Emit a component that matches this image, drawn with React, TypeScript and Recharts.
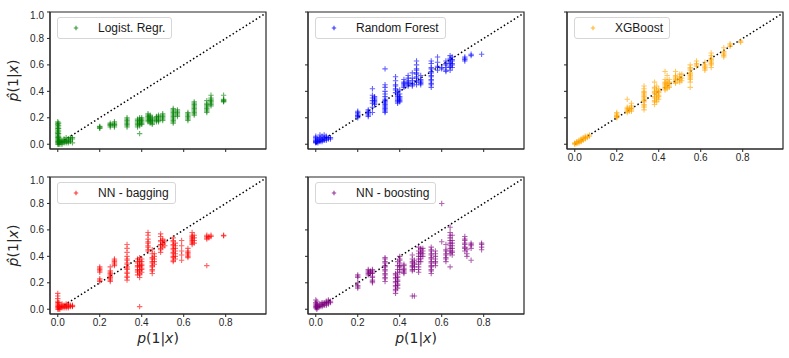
import React from 'react'
import { ReferenceArea, ReferenceLine, Scatter, ScatterChart, XAxis, YAxis } from 'recharts'

type Cluster = [number, number[]]

const X_TICKS = [0, 0.2, 0.4, 0.6, 0.8]
const Y_TICKS = [0, 0.2, 0.4, 0.6, 0.8, 1.0]
const X_DOMAIN: [number, number] = [-0.037, 0.992]
const Y_DOMAIN: [number, number] = [-0.036, 1.0]

// each entry: true p(1|x), then the estimates seen at that x
const LR_POINTS: Cluster[] = [
  [0.0, [0.0, 0.01, 0.02, 0.03, 0.04, 0.05, 0.06, 0.07, 0.08, 0.09, 0.1, 0.11, 0.12, 0.13, 0.14, 0.15, 0.16, 0.17]],
  [0.004, [0.0, 0.01, 0.02, 0.03, 0.04, 0.05, 0.06, 0.08, 0.1, 0.12, 0.14, 0.16]],
  [0.01, [0.0, 0.01, 0.02, 0.03]],
  [0.02, [0.0, 0.01, 0.02, 0.03]],
  [0.03, [0.01, 0.02, 0.03, 0.04]],
  [0.04, [0.01, 0.02, 0.03, 0.05]],
  [0.05, [0.01, 0.02, 0.03, 0.04]],
  [0.06, [0.02, 0.03, 0.04, 0.05]],
  [0.07, [0.01, 0.04, 0.05]],
  [0.2, [0.12, 0.125, 0.13, 0.135]],
  [0.25, [0.13, 0.14, 0.145, 0.15, 0.16]],
  [0.27, [0.13, 0.14, 0.145, 0.15, 0.16, 0.17]],
  [0.33, [0.13, 0.14, 0.15, 0.16, 0.17, 0.18, 0.19, 0.2]],
  [0.38, [0.13, 0.14, 0.15, 0.16, 0.17, 0.18, 0.19]],
  [0.39, [0.08, 0.14, 0.15, 0.16, 0.17, 0.18, 0.19, 0.2]],
  [0.4, [0.15, 0.16, 0.17, 0.18, 0.19, 0.2]],
  [0.43, [0.17, 0.18, 0.19, 0.2, 0.21, 0.22, 0.23]],
  [0.44, [0.16, 0.17, 0.18, 0.19, 0.2, 0.21, 0.22]],
  [0.45, [0.15, 0.16, 0.17, 0.18, 0.19, 0.2]],
  [0.47, [0.17, 0.18, 0.19, 0.2, 0.21]],
  [0.48, [0.17, 0.18, 0.19, 0.2, 0.21, 0.22]],
  [0.5, [0.18, 0.19, 0.2, 0.21, 0.22, 0.23]],
  [0.55, [0.16, 0.17, 0.18, 0.19, 0.2, 0.21, 0.22, 0.23, 0.24, 0.25, 0.26, 0.27]],
  [0.57, [0.21, 0.22, 0.23, 0.24, 0.25, 0.26]],
  [0.62, [0.18, 0.19, 0.2, 0.21, 0.22, 0.23, 0.24]],
  [0.65, [0.22, 0.23, 0.24, 0.25, 0.26, 0.27, 0.28, 0.29, 0.3, 0.31, 0.32]],
  [0.71, [0.24, 0.25, 0.26, 0.27, 0.28, 0.29, 0.3, 0.31, 0.33]],
  [0.73, [0.29, 0.3, 0.31, 0.32, 0.33, 0.34, 0.35, 0.37]],
  [0.79, [0.32, 0.325, 0.33, 0.335, 0.34, 0.37]],
]

const RF_POINTS: Cluster[] = [
  [0.0, [0.01, 0.015, 0.02, 0.025, 0.03, 0.04, 0.05, 0.06]],
  [0.01, [0.01, 0.02, 0.03, 0.04]],
  [0.02, [0.02, 0.03, 0.04, 0.05, 0.07]],
  [0.03, [0.02, 0.03, 0.04, 0.06]],
  [0.04, [0.03, 0.04, 0.05, 0.07]],
  [0.05, [0.03, 0.04, 0.05, 0.06]],
  [0.06, [0.04, 0.05]],
  [0.07, [0.04, 0.05]],
  [0.2, [0.2, 0.21, 0.215, 0.22, 0.23, 0.24, 0.25]],
  [0.25, [0.21, 0.22, 0.23, 0.24, 0.25, 0.26]],
  [0.27, [0.24, 0.28, 0.31, 0.33, 0.35, 0.37, 0.42]],
  [0.28, [0.3, 0.31, 0.32, 0.33, 0.34, 0.35, 0.36]],
  [0.33, [0.24, 0.25, 0.26, 0.27, 0.28, 0.29, 0.3, 0.31, 0.32, 0.33, 0.34, 0.36, 0.38, 0.4, 0.43, 0.45, 0.57]],
  [0.38, [0.39, 0.41, 0.42, 0.44, 0.45, 0.48, 0.51]],
  [0.39, [0.31, 0.32, 0.33, 0.34, 0.35, 0.36, 0.37, 0.38, 0.4]],
  [0.4, [0.32, 0.33, 0.34, 0.35, 0.36, 0.38, 0.41]],
  [0.42, [0.43, 0.44, 0.45, 0.46, 0.47, 0.49]],
  [0.44, [0.44, 0.45, 0.46, 0.47, 0.48, 0.5, 0.52]],
  [0.46, [0.44, 0.45, 0.46, 0.48, 0.5, 0.54]],
  [0.48, [0.45, 0.47, 0.48, 0.5, 0.51, 0.53, 0.54, 0.56, 0.57, 0.6, 0.63]],
  [0.5, [0.45, 0.46, 0.47, 0.48, 0.49, 0.52]],
  [0.55, [0.43, 0.45, 0.46, 0.48, 0.49, 0.51, 0.52, 0.54, 0.55, 0.57, 0.58, 0.61, 0.63]],
  [0.58, [0.56, 0.58, 0.59, 0.62, 0.66]],
  [0.6, [0.57, 0.58]],
  [0.62, [0.55, 0.56, 0.58, 0.6, 0.61, 0.63]],
  [0.64, [0.56, 0.58, 0.59, 0.61, 0.62, 0.64, 0.65, 0.67]],
  [0.65, [0.58, 0.6, 0.61, 0.63, 0.64, 0.66]],
  [0.71, [0.63, 0.64, 0.65, 0.66]],
  [0.74, [0.67, 0.68]],
  [0.79, [0.68]],
]

const XGB_POINTS: Cluster[] = [
  [0.0, [0.0, 0.005, 0.01]],
  [0.01, [0.005, 0.01, 0.015, 0.02]],
  [0.02, [0.01, 0.02, 0.03]],
  [0.03, [0.02, 0.025, 0.03, 0.04]],
  [0.04, [0.03, 0.04, 0.05]],
  [0.05, [0.04, 0.045, 0.05, 0.06]],
  [0.06, [0.05, 0.06]],
  [0.07, [0.06, 0.07]],
  [0.2, [0.2, 0.205, 0.21, 0.215, 0.22, 0.23, 0.24]],
  [0.25, [0.24, 0.25, 0.26, 0.27, 0.28, 0.34]],
  [0.26, [0.25, 0.26, 0.27]],
  [0.27, [0.25, 0.26, 0.27, 0.28, 0.29, 0.31]],
  [0.33, [0.26, 0.28, 0.29, 0.3, 0.32, 0.33, 0.34, 0.35, 0.36, 0.37, 0.38, 0.39, 0.4, 0.42, 0.44]],
  [0.38, [0.3, 0.32, 0.33, 0.35, 0.36, 0.38, 0.39, 0.4, 0.42, 0.43, 0.47]],
  [0.39, [0.32, 0.34, 0.35, 0.37, 0.38, 0.4, 0.41, 0.44]],
  [0.4, [0.34, 0.36, 0.37, 0.39, 0.4, 0.42]],
  [0.43, [0.41, 0.42, 0.43, 0.44, 0.45, 0.46, 0.47, 0.49, 0.55]],
  [0.44, [0.42, 0.43, 0.45, 0.46, 0.48, 0.52]],
  [0.45, [0.43, 0.44, 0.46, 0.47, 0.49]],
  [0.48, [0.46, 0.47, 0.48, 0.49, 0.5, 0.51, 0.52, 0.55]],
  [0.5, [0.47, 0.48, 0.49, 0.5, 0.51, 0.53]],
  [0.51, [0.48, 0.5, 0.53]],
  [0.55, [0.43, 0.47, 0.49, 0.5, 0.51, 0.52, 0.53, 0.54, 0.56, 0.57, 0.58, 0.6]],
  [0.58, [0.59, 0.6, 0.61, 0.63]],
  [0.62, [0.56, 0.57, 0.58, 0.59, 0.6, 0.62]],
  [0.65, [0.58, 0.6, 0.61, 0.62, 0.63, 0.64, 0.65, 0.67, 0.69]],
  [0.71, [0.66, 0.67, 0.68, 0.69, 0.7, 0.73]],
  [0.74, [0.74, 0.75, 0.76]],
  [0.79, [0.77, 0.78]],
]

const BAG_POINTS: Cluster[] = [
  [0.0, [0.0, 0.01, 0.02, 0.03, 0.04, 0.05, 0.06, 0.08, 0.1, 0.12]],
  [0.005, [0.0, 0.01, 0.02, 0.03, 0.05]],
  [0.01, [0.0, 0.01, 0.02]],
  [0.02, [0.01, 0.02, 0.03, 0.04]],
  [0.03, [0.01, 0.02, 0.03]],
  [0.04, [0.01, 0.02, 0.03, 0.04]],
  [0.05, [0.01, 0.02, 0.03, 0.04]],
  [0.06, [0.02, 0.03]],
  [0.07, [0.02, 0.025, 0.03]],
  [0.2, [0.21, 0.22, 0.23, 0.28, 0.29, 0.3, 0.31, 0.32]],
  [0.25, [0.21, 0.22, 0.23, 0.24, 0.25, 0.26, 0.27, 0.28, 0.29, 0.32]],
  [0.27, [0.33, 0.34, 0.35, 0.36, 0.37, 0.38]],
  [0.33, [0.22, 0.24, 0.25, 0.27, 0.28, 0.3, 0.31, 0.32, 0.34, 0.35, 0.37, 0.38, 0.4, 0.43, 0.46, 0.49]],
  [0.38, [0.26, 0.28, 0.29, 0.3, 0.32, 0.33, 0.35, 0.36, 0.38]],
  [0.39, [0.02, 0.24, 0.26, 0.27, 0.29, 0.3, 0.32, 0.33, 0.34, 0.36, 0.37, 0.39]],
  [0.4, [0.28, 0.3, 0.31, 0.33, 0.34, 0.36, 0.38]],
  [0.43, [0.44, 0.45, 0.47, 0.48, 0.5, 0.51, 0.53, 0.56, 0.58]],
  [0.45, [0.27, 0.29, 0.3, 0.32, 0.33, 0.35, 0.36, 0.38, 0.39, 0.42, 0.45]],
  [0.46, [0.34, 0.36, 0.38, 0.4, 0.42]],
  [0.49, [0.43, 0.45, 0.46, 0.48, 0.49, 0.51, 0.52, 0.55, 0.57]],
  [0.5, [0.47, 0.49, 0.5, 0.52, 0.53]],
  [0.51, [0.48, 0.51]],
  [0.55, [0.36, 0.37, 0.39, 0.4, 0.42, 0.43, 0.45, 0.46, 0.48, 0.49, 0.51, 0.52, 0.54]],
  [0.56, [0.38, 0.4, 0.42, 0.44, 0.46, 0.48, 0.5]],
  [0.59, [0.37, 0.41, 0.44, 0.48, 0.52]],
  [0.62, [0.39, 0.4, 0.41, 0.42, 0.43, 0.44, 0.46]],
  [0.64, [0.49, 0.5, 0.51, 0.52, 0.53, 0.54, 0.55, 0.56, 0.58]],
  [0.65, [0.5, 0.52, 0.54, 0.56]],
  [0.71, [0.33, 0.53, 0.54, 0.55, 0.56]],
  [0.72, [0.54, 0.55]],
  [0.73, [0.55, 0.56]],
  [0.79, [0.555, 0.56]],
]

const BOOST_POINTS: Cluster[] = [
  [0.0, [0.01, 0.02, 0.03, 0.04, 0.05, 0.07]],
  [0.005, [0.0, 0.01, 0.02, 0.03, 0.04, 0.06]],
  [0.01, [0.01, 0.02, 0.03]],
  [0.02, [0.02, 0.03, 0.04]],
  [0.03, [0.02, 0.03, 0.04, 0.05]],
  [0.04, [0.03, 0.04, 0.05]],
  [0.05, [0.03, 0.04, 0.05, 0.06]],
  [0.06, [0.04, 0.05, 0.06, 0.07]],
  [0.07, [0.05, 0.06]],
  [0.2, [0.16, 0.17, 0.18, 0.2, 0.24, 0.25, 0.26]],
  [0.25, [0.26, 0.27, 0.28, 0.29, 0.3]],
  [0.26, [0.27, 0.28, 0.29]],
  [0.27, [0.2, 0.21, 0.22, 0.24, 0.25, 0.27, 0.28, 0.29, 0.3]],
  [0.33, [0.21, 0.23, 0.24, 0.26, 0.27, 0.29, 0.3, 0.32, 0.33, 0.35, 0.36, 0.38, 0.39]],
  [0.38, [0.12, 0.14, 0.15, 0.17, 0.18, 0.2, 0.21, 0.23, 0.24, 0.26, 0.27]],
  [0.39, [0.16, 0.18, 0.19, 0.21, 0.22, 0.24, 0.25, 0.28, 0.3, 0.33, 0.36]],
  [0.4, [0.28, 0.3, 0.32, 0.33, 0.35, 0.37, 0.38, 0.4]],
  [0.42, [0.27, 0.28, 0.29, 0.3, 0.31, 0.33, 0.34]],
  [0.46, [0.1, 0.29, 0.3, 0.32, 0.33, 0.35, 0.36, 0.38, 0.41]],
  [0.47, [0.1, 0.3, 0.32, 0.34, 0.35, 0.37]],
  [0.49, [0.28, 0.3, 0.32, 0.34, 0.36, 0.38, 0.4, 0.42, 0.44, 0.47]],
  [0.5, [0.36, 0.38, 0.4, 0.42, 0.43, 0.45, 0.46]],
  [0.51, [0.4, 0.42, 0.44, 0.46]],
  [0.55, [0.27, 0.29, 0.3, 0.32, 0.33, 0.35, 0.36, 0.38, 0.39, 0.41, 0.42, 0.44, 0.45, 0.47]],
  [0.57, [0.33, 0.35, 0.36, 0.38, 0.4, 0.42, 0.44]],
  [0.6, [0.8, 0.51]],
  [0.62, [0.36, 0.38, 0.39, 0.41, 0.42, 0.44, 0.45, 0.49]],
  [0.64, [0.32, 0.42, 0.44, 0.46, 0.48, 0.5, 0.52, 0.54, 0.56, 0.58, 0.62]],
  [0.65, [0.41, 0.43, 0.44, 0.46, 0.48, 0.5, 0.52, 0.56]],
  [0.71, [0.44, 0.46, 0.47, 0.49, 0.5, 0.52, 0.53, 0.55]],
  [0.72, [0.4, 0.42, 0.45]],
  [0.74, [0.37, 0.46, 0.48, 0.49, 0.5]],
  [0.79, [0.45, 0.47, 0.49, 0.5]],
]

const toRows = (clusters: Cluster[]) =>
  clusters.flatMap(([x, ys]) => ys.map((y) => ({ x, y })))

const PANELS = [
  { name: 'Logist. Regr.', color: '#008000', data: LR_POINTS, left: 50, top: 12, showX: false, xTitle: false, showY: true },
  { name: 'Random Forest', color: '#0000ff', data: RF_POINTS, left: 308, top: 12, showX: false, xTitle: false, showY: false },
  { name: 'XGBoost', color: '#ffa500', data: XGB_POINTS, left: 567, top: 12, showX: true, xTitle: false, showY: false },
  { name: 'NN - bagging', color: '#ff0000', data: BAG_POINTS, left: 50, top: 177, showX: true, xTitle: true, showY: true },
  { name: 'NN - boosting', color: '#800080', data: BOOST_POINTS, left: 308, top: 177, showX: true, xTitle: true, showY: false },
]

const PLOT_W = 216
const PLOT_H = 137
const Y_AXIS_W = 50
const X_AXIS_H = 40
const M_TOP = 2
const M_RIGHT = 2

const INK = '#262626'
const TICK_STYLE = { fill: INK, fontSize: 10, fontFamily: '"Liberation Sans", Arial, sans-serif' }
const hideTick = () => <g />

function Plus({ cx, cy, color, size = 2.7, opacity = 0.6 }: { cx?: number; cy?: number; color: string; size?: number; opacity?: number }) {
  if (cx == null || cy == null) return <g />
  return (
    <path
      d={`M${cx - size},${cy}H${cx + size}M${cx},${cy - size}V${cy + size}`}
      stroke={color}
      strokeWidth={1.1}
      strokeOpacity={opacity}
      fill="none"
    />
  )
}

function YTitle() {
  const cx = Y_AXIS_W - 37
  const cy = M_TOP + PLOT_H / 2
  return (
    <text
      x={cx}
      y={cy}
      transform={`rotate(-90, ${cx}, ${cy})`}
      textAnchor="middle"
      dominantBaseline="central"
      fontFamily="DejaVu Sans"
      fontSize={14}
      fill={INK}
    >
      <tspan fontStyle="italic">{'p\u0302'}</tspan>(1|<tspan fontStyle="italic">x</tspan>)
    </text>
  )
}

function XTitle() {
  const cx = Y_AXIS_W + PLOT_W / 2
  const cy = M_TOP + PLOT_H + 24
  return (
    <text x={cx} y={cy} textAnchor="middle" dominantBaseline="central" fontFamily="DejaVu Sans" fontSize={14} fill={INK}>
      <tspan fontStyle="italic">p</tspan>(1|<tspan fontStyle="italic">x</tspan>)
    </text>
  )
}

function Panel({ p }: { p: (typeof PANELS)[number] }) {
  const rows = toRows(p.data)
  return (
    <div style={{ position: 'absolute', left: p.left - Y_AXIS_W, top: p.top - M_TOP }}>
      <ScatterChart
        width={Y_AXIS_W + PLOT_W + M_RIGHT}
        height={M_TOP + PLOT_H + X_AXIS_H}
        margin={{ top: M_TOP, right: M_RIGHT, bottom: 0, left: 0 }}
      >
        <XAxis
          type="number"
          dataKey="x"
          domain={X_DOMAIN}
          ticks={X_TICKS}
          allowDataOverflow
          height={X_AXIS_H}
          tickSize={3}
          tickMargin={2}
          stroke={INK}
          tick={p.showX ? TICK_STYLE : hideTick}
          tickFormatter={(v: number) => v.toFixed(1)}
          label={p.xTitle ? <XTitle /> : undefined}
        />
        <YAxis
          type="number"
          dataKey="y"
          domain={Y_DOMAIN}
          ticks={Y_TICKS}
          allowDataOverflow
          width={Y_AXIS_W}
          tickSize={3}
          tickMargin={3}
          stroke={INK}
          tick={p.showY ? TICK_STYLE : hideTick}
          tickFormatter={(v: number) => v.toFixed(1)}
          label={p.showY ? <YTitle /> : undefined}
        />
        <ReferenceLine
          segment={[{ x: 0, y: 0 }, { x: 0.99, y: 0.99 }]}
          stroke="#000"
          strokeWidth={1.5}
          strokeDasharray="1.5 2.4"
          ifOverflow="visible"
        />
        <Scatter
          data={rows}
          isAnimationActive={false}
          shape={(s: any) => <Plus cx={s.cx} cy={s.cy} color={p.color} />}
        />
        <ReferenceArea
          x1={X_DOMAIN[0]}
          x2={X_DOMAIN[1]}
          y1={Y_DOMAIN[0]}
          y2={Y_DOMAIN[1]}
          fill="none"
          stroke={INK}
          strokeWidth={1.2}
          ifOverflow="visible"
        />
      </ScatterChart>
      <div
        style={{
          position: 'absolute',
          left: Y_AXIS_W + 7,
          top: M_TOP + 5,
          height: 22,
          boxSizing: 'border-box',
          border: '1px solid #d6d6d6',
          borderRadius: 3,
          background: 'rgba(255,255,255,0.8)',
          display: 'flex',
          alignItems: 'center',
          paddingRight: 6,
          fontFamily: '"Liberation Sans", Arial, sans-serif',
          fontSize: 12,
          color: '#1a1a1a',
          whiteSpace: 'nowrap',
        }}
      >
        <svg width={40} height={20} style={{ flex: 'none' }}>
          <Plus cx={18} cy={10} color={p.color} size={2.2} opacity={0.8} />
        </svg>
        <span>{p.name}</span>
      </div>
    </div>
  )
}

export default function App() {
  return (
    <div style={{ position: 'absolute', left: 0, top: 0, width: 789, height: 358, background: '#fff' }}>
      {PANELS.map((p) => (
        <Panel key={p.name} p={p} />
      ))}
    </div>
  )
}
